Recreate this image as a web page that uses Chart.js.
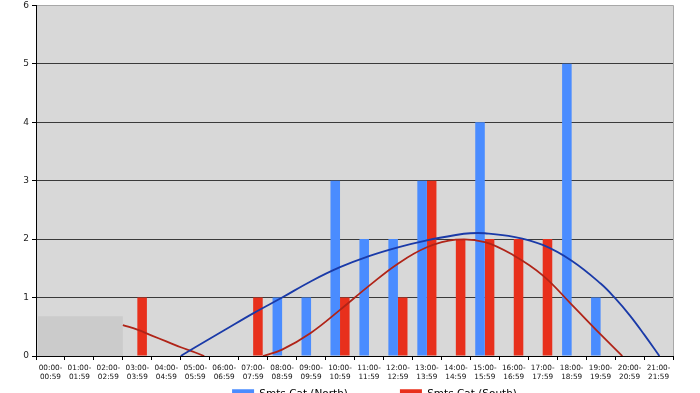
<!DOCTYPE html>
<html>
<head>
<meta charset="utf-8">
<script src="https://cdn.jsdelivr.net/npm/chart.js@4"></script>
<style>
body { margin: 0; background: #fff; overflow: hidden; }
#caja { width: 700px; height: 393px; overflow: hidden; }
</style>
</head>
<body>
<div id="caja"><canvas id="grafica" width="700" height="416"></canvas></div>
<script>
// categorias (franjas horarias)
var horas = ['00:00-00:59','01:00-01:59','02:00-02:59','03:00-03:59','04:00-04:59','05:00-05:59',
             '06:00-06:59','07:00-07:59','08:00-08:59','09:00-09:59','10:00-10:59','11:00-11:59',
             '12:00-12:59','13:00-13:59','14:00-14:59','15:00-15:59','16:00-16:59','17:00-17:59',
             '18:00-18:59','19:00-19:59','20:00-20:59','21:00-21:59'];

var norte = [0,0,0,0,0,0,0,0,1,1,3,2,2,3,0,4,0,0,5,1,0,0];
var sur   = [0,0,0,1,0,0,0,1,0,0,1,0,1,3,2,2,2,2,0,0,0,0];

// lineas de tendencia (x = indice de categoria)
var tendNorteX = [4.5, 5, 6, 7, 8, 9, 10, 11, 12, 13, 14, 14.5, 15, 16, 17, 18, 19, 19.5, 20, 20.5, 21.03];
var tendNorteY = [0, 0.15, 0.44, 0.73, 1.0, 1.28, 1.52, 1.71, 1.86, 1.98, 2.07, 2.1, 2.1, 2.04, 1.9, 1.63, 1.24, 0.99, 0.7, 0.37, 0];
var tendSurX = [2.5, 3, 3.5, 4, 4.5, 5, 5.31, 6.3, 7.34, 8, 9, 10, 11, 12, 13, 14, 15, 16, 17, 18, 19, 19.75];
var tendSurY = [0.53, 0.45, 0.35, 0.25, 0.15, 0.06, 0, null, 0, 0.11, 0.4, 0.79, 1.2, 1.58, 1.86, 1.99, 1.95, 1.72, 1.38, 0.88, 0.37, 0];

var yTicks = [0, 1, 2, 3, 4, 5, 6];

var indices = horas.map(function (h, i) { return i; });

function puntos(xs, ys) {
    return xs.map(function (x, i) { return {x: x, y: ys[i]}; });
}

var fuente = 'DejaVu Sans';

var fondo = {
    id: 'fondo',
    afterLayout: function (chart) {
        // acerca la leyenda al eje sin cambiar la separacion entre items
        var lg = chart.legend;
        lg.top -= 48;
        lg.left += 38; lg.right += 38;
    },
    beforeDraw: function (chart) {
        var a = chart.chartArea, c = chart.ctx;
        c.save();
        c.fillStyle = '#d8d8d8';
        c.fillRect(a.left, a.top, a.right - a.left, a.bottom - a.top);
        c.restore();
    },
    beforeDatasetsDraw: function (chart) {
        var c = chart.ctx, sx = chart.scales.x, sy = chart.scales.y;
        var x0 = sx.getPixelForValue(-0.43), x1 = sx.getPixelForValue(2.5);
        var y0 = sy.getPixelForValue(0.68), y1 = sy.getPixelForValue(0);
        c.save();
        c.fillStyle = '#cbcbcb';
        c.fillRect(x0, y0, x1 - x0, y1 - y0);
        c.restore();
    },
    afterDraw: function (chart) {
        var a = chart.chartArea, c = chart.ctx;
        c.save();
        c.strokeStyle = '#a8a8a8';
        c.lineWidth = 1;
        c.beginPath();
        c.moveTo(a.right + 0.5, a.top);
        c.lineTo(a.right + 0.5, a.bottom);
        c.stroke();
        c.restore();
    }
};

new Chart(document.getElementById('grafica'), {
    type: 'bar',
    data: {
        datasets: [
            { label: 'Smts Cat (North)', data: puntos(indices, norte), backgroundColor: '#4a8cff', borderWidth: 0,
              barPercentage: 1, categoryPercentage: 0.66, order: 1 },
            { label: 'Smts Cat (South)', data: puntos(indices, sur), backgroundColor: '#e8301c', borderWidth: 0,
              barPercentage: 1, categoryPercentage: 0.66, order: 1 },
            { type: 'line', label: 'Tendencia Norte', data: puntos(tendNorteX, tendNorteY),
              borderColor: '#1a3aa8', borderWidth: 1.8, pointRadius: 0, fill: false,
              tension: 0.4, order: 0 },
            { type: 'line', label: 'Tendencia Sur', data: puntos(tendSurX, tendSurY),
              borderColor: '#b02418', borderWidth: 1.8, pointRadius: 0, fill: false, spanGaps: false,
              tension: 0.4, order: 0 }
        ]
    },
    options: {
        responsive: false,
        animation: false,
        devicePixelRatio: 1,
        layout: { padding: { top: 0, right: 27, left: 0, bottom: 0 } },
        plugins: {
            tooltip: { enabled: false },
            legend: {
                position: 'bottom',
                maxHeight: 31,
                labels: {
                    padding: 52, boxWidth: 22, boxHeight: 10, color: '#000',
                    font: { family: fuente, size: 10.5 },
                    filter: function (item) { return item.datasetIndex < 2; }
                }
            }
        },
        scales: {
            x: {
                type: 'linear',
                min: -0.5, max: 21.5,
                offset: false,
                afterBuildTicks: function (s) { s.ticks = indices.map(function (v) { return {value: v}; }); },
                grid: { offset: true, drawOnChartArea: false, color: '#000', tickLength: 4 },
                border: { color: '#000', width: 1 },
                ticks: {
                    maxRotation: 0, autoSkip: false, padding: 3, color: '#111',
                    font: { family: fuente, size: 7.3, lineHeight: 1.3 },
                    callback: function (v) {
                        var p = horas[v].split('-');
                        return [p[0] + '-', p[1]];
                    }
                }
            },
            y: {
                min: yTicks[0], max: yTicks[yTicks.length - 1],
                afterBuildTicks: function (s) { s.ticks = yTicks.map(function (v) { return {value: v}; }); },
                afterFit: function (s) { s.width = 36; },
                grid: {
                    tickLength: 4, tickColor: '#000',
                    color: function (ctx) { return ctx.tick && ctx.tick.value === 6 ? '#a8a8a8' : '#3a3a3a'; }
                },
                border: { color: '#000', width: 1 },
                ticks: { padding: 3, color: '#222', font: { family: fuente, size: 9, lineHeight: 0.5 } }
            }
        }
    },
    plugins: [fondo]
});
</script>
</body>
</html>
